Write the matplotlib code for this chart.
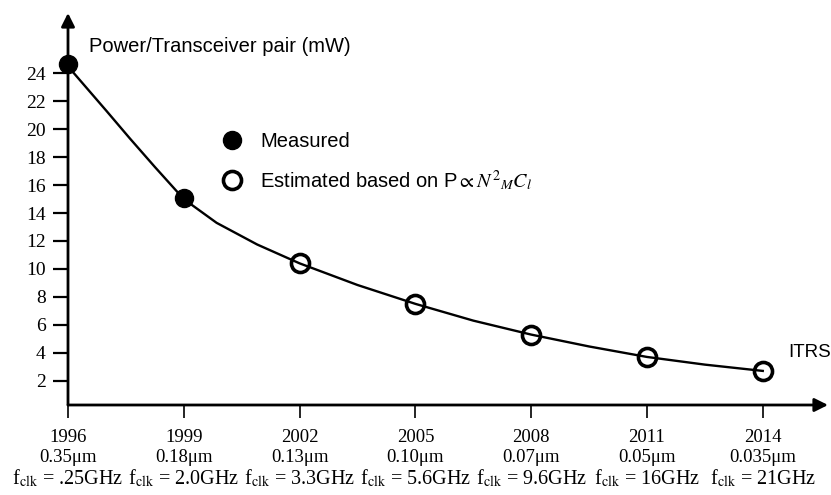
import matplotlib
matplotlib.use('Agg')
import matplotlib.pyplot as plt
from matplotlib.lines import Line2D
from matplotlib import transforms

# Technology roadmap labels
years = [1996, 1999, 2002, 2005, 2008, 2011, 2014]
nodes = ['0.35μm', '0.18μm', '0.13μm', '0.10μm', '0.07μm', '0.05μm', '0.035μm']
fclk = ['.25GHz', '2.0GHz', '3.3GHz', '5.6GHz', '9.6GHz', '16GHz', '21GHz']
yticks = [2, 4, 6, 8, 10, 12, 14, 16, 18, 20, 22, 24]

# Power per transceiver pair (mW)
measured_years = [1996, 1999]
measured_power = [24.7, 15.1]
estimated_years = [2002, 2005, 2008, 2011, 2014]
estimated_power = [10.4, 7.5, 5.3, 3.7, 2.7]

# trend curve
curve_years = [1996, 1997, 1997.6, 1998.25, 1999, 1999.85, 2000.9, 2002,
               2003.5, 2005, 2006.5, 2008, 2009.5, 2011, 2012.5, 2014]
curve_power = [24.5, 21.3, 19.35, 17.3, 15.0, 13.3, 11.75, 10.4,
               8.85, 7.5, 6.3, 5.3, 4.45, 3.7, 3.15, 2.7]

plt.rcParams['mathtext.fontset'] = 'stix'
serif = 'Liberation Serif'
sans = 'Liberation Sans'

fig = plt.figure(figsize=(8.31, 4.95), dpi=100)
ax = fig.add_axes([68 / 831, 90 / 495, 760 / 831, 392 / 495])
ax.set_xlim(1996, 2015.69)
ax.set_ylim(0.26, 28.32)

for s in ax.spines.values():
    s.set_visible(False)

# axes with arrow heads
arrow = dict(arrowstyle='-|>', lw=2.0, color='black', mutation_scale=20,
             shrinkA=0, shrinkB=0)
ax.annotate('', xy=(1, 0), xytext=(0, 0), xycoords='axes fraction', arrowprops=arrow)
ax.annotate('', xy=(0, 1), xytext=(0, 0), xycoords='axes fraction', arrowprops=arrow)

ax.plot(curve_years, curve_power, color='black', lw=1.7, clip_on=False, zorder=2,
        solid_joinstyle='round')
ax.plot(measured_years, measured_power, 'o', ms=13, color='black',
        clip_on=False, zorder=3)
ax.plot(estimated_years, estimated_power, 'o', ms=13, mfc='none', mec='black',
        mew=2.6, clip_on=False, zorder=3)

ax.set_yticks(yticks)
ax.set_yticklabels([str(v) for v in yticks], fontfamily=serif, fontsize=14)
ax.tick_params(axis='y', direction='out', length=11, width=1.6, pad=5)

ax.set_xticks(years)
ax.set_xticklabels([str(y) for y in years], fontfamily=serif, fontsize=13.5)
ax.tick_params(axis='x', direction='out', length=9, width=1.2, pad=8)

trans = transforms.blended_transform_factory(ax.transData, fig.transFigure)
for y, n, f in zip(years, nodes, fclk):
    ax.text(y, 1 - 458 / 495, n, transform=trans, ha='center', va='center',
            fontfamily=serif, fontsize=13.5)
    ax.text(y, 1 - 478 / 495, r'f$_{\rm clk}$ = ' + f, transform=trans,
            ha='center', va='center', fontfamily=serif, fontsize=14.5)

ax.text(1996.55, 25.95, 'Power/Transceiver pair (mW)', fontfamily=sans,
        fontsize=14.5, va='center', ha='left')
ax.text(2014.65, 4.0, 'ITRS', fontfamily=sans, fontsize=13.5, va='center', ha='left')

handles = [
    Line2D([], [], ls='none', marker='o', ms=13, color='black'),
    Line2D([], [], ls='none', marker='o', ms=13, mfc='none', mec='black', mew=2.6),
]
labels = ['Measured', r'Estimated based on P$\propto N^2{}_{M}C_l$']
ax.legend(handles, labels, loc='upper left', bbox_to_anchor=(212 / 831, 1 - 122 / 495),
          bbox_transform=fig.transFigure, frameon=False, handletextpad=0.9,
          labelspacing=0.85, handlelength=1.0, borderpad=0,
          prop={'family': sans, 'size': 14.5})

plt.savefig('out.png', dpi=100)
